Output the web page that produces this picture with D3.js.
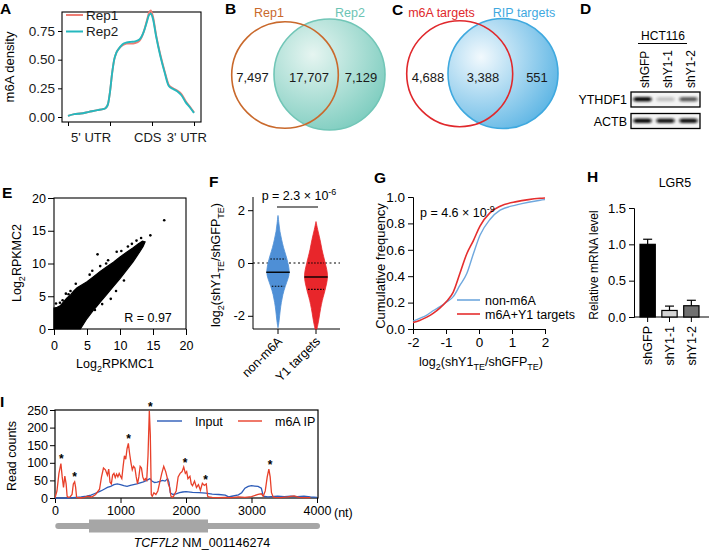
<!DOCTYPE html>
<html><head><meta charset="utf-8">
<script src="https://cdn.jsdelivr.net/npm/d3@7"></script>
<style>body{margin:0;background:#fff}svg{display:block}</style>
</head><body><svg id="c" width="709" height="554"></svg>
<script>
// ---------------- DATA ----------------
// A: metagene m6A density
const metaPos     = [0, 0.15, 0.3, 0.5, 0.7, 0.85, 0.9, 0.95, 1.0, 1.05, 1.1, 1.15, 1.2, 1.3, 1.4, 1.5, 1.6, 1.7, 1.8, 1.87, 1.93, 1.97, 2.02, 2.1, 2.2, 2.3, 2.4, 2.5, 2.6, 2.7, 2.8, 2.9, 3.0];
const rep1Density = [0.01, 0.025, 0.03, 0.045, 0.06, 0.07, 0.08, 0.11, 0.22, 0.38, 0.5, 0.56, 0.59, 0.625, 0.64, 0.64, 0.645, 0.665, 0.74, 0.83, 0.91, 0.93, 0.88, 0.71, 0.54, 0.4, 0.28, 0.25, 0.23, 0.2, 0.14, 0.09, 0.04];
const rep2Density = [0.01, 0.025, 0.03, 0.045, 0.06, 0.07, 0.08, 0.11, 0.22, 0.38, 0.5, 0.56, 0.59, 0.635, 0.65, 0.655, 0.66, 0.675, 0.74, 0.82, 0.89, 0.9, 0.86, 0.7, 0.53, 0.39, 0.27, 0.245, 0.225, 0.19, 0.13, 0.085, 0.035];
const metaTicks = [0, 1, 2, 3];
const metaLabels = ["5' UTR", "CDS", "3' UTR"];
const metaLabelPos = [0.55, 1.9, 2.83];
const densityTicks = [0, 0.25, 0.5, 0.75];
const repNames = ["Rep1", "Rep2"];

// B & C: Venn counts
const vennBNames = ["Rep1", "Rep2"];
const vennBCounts = [7497, 17707, 7129];
const vennCNames = ["m6A targets", "RIP targets"];
const vennCCounts = [4688, 3388, 551];

// D: western blot
const blotCell = "HCT116";
const blotLanes = ["shGFP", "shY1-1", "shY1-2"];
const blotProteins = ["YTHDF1", "ACTB"];
const ythdf1Intensity = [1.0, 0.2, 0.65];
const actbIntensity = [1.0, 0.95, 0.97];

// E: scatter (dense cloud envelope + individual points)
const cloudUpperX = [0, 0.5, 1, 1.5, 2, 2.5, 3, 3.5, 4, 5, 6, 7, 8, 9, 10, 11, 12, 12.8, 13.4, 13.8];
const cloudUpperY = [3.2, 3.3, 3.6, 4.2, 4.8, 5.2, 5.8, 6.3, 6.6, 7.2, 8.0, 8.8, 9.5, 10.2, 11.0, 11.7, 12.4, 13.0, 13.4, 13.3];
const cloudLowerX = [13.8, 13.5, 13, 12, 11, 10, 9, 8, 7, 6, 5, 4.5, 4, 0];
const cloudLowerY = [13.3, 12.6, 11.8, 10.3, 9.0, 7.7, 6.5, 5.3, 4.1, 2.9, 1.6, 0.8, 0, 0];
const scatterX = [16.7, 14.6, 6.6, 7.0, 2.5, 0.9, 4.9, 9.5, 11.2, 5.4, 3.3, 1.8, 12.5, 8.2, 6.2, 7.3, 9.4, 10.6, 3.8, 0.3, 13.2, 12.9, 3.4, 5.8, 10.2, 1.3, 2.2, 7.9, 11.8, 8.6, 4.4];
const scatterY = [16.6, 14.3, 11.4, 9.6, 5.8, 4.0, 2.4, 11.8, 12.6, 8.3, 6.9, 5.4, 13.5, 10.5, 2.9, 3.8, 5.8, 7.4, 0.6, 3.9, 13.9, 12.9, 0.6, 8.9, 11.9, 4.4, 5.3, 10.0, 13.0, 4.6, 1.2];
const scatterTicks = [0, 5, 10, 15, 20];
const corrLabel = "R = 0.97";

// F: violins
const violinGroups = ["non-m6A", "Y1 targets"];
const violinBlueY = [1.8, 1.5, 1.2, 0.9, 0.6, 0.25, 0, -0.35, -0.6, -0.9, -1.2, -1.5, -1.8, -2.2, -2.45];
const violinBlueW = [0, 0.08, 0.15, 0.3, 0.45, 0.7, 0.85, 1.0, 0.85, 0.6, 0.4, 0.28, 0.18, 0.1, 0];
const violinRedY  = [1.57, 1.3, 0.87, 0.5, 0.24, 0, -0.25, -0.5, -0.75, -1.05, -1.3, -1.55, -1.9, -2.2, -2.5];
const violinRedW  = [0, 0.12, 0.36, 0.5, 0.65, 0.78, 0.92, 1.0, 0.92, 0.76, 0.6, 0.46, 0.32, 0.22, 0.08];
const violinMedian = [-0.35, -0.53];
const violinQ1 = [-0.88, -1.0];
const violinQ3 = [0.15, 0.0];
const violinTicks = [-2, 0, 2];

// G: cumulative curves
const cdfX       = [-2, -1.8, -1.58, -1.38, -1.18, -0.98, -0.78, -0.58, -0.37, -0.17, 0.03, 0.33, 0.64, 1.14, 1.5, 1.85, 2.0];
const cdfNonM6A  = [0.06, 0.08, 0.105, 0.14, 0.17, 0.205, 0.245, 0.33, 0.42, 0.57, 0.71, 0.83, 0.9, 0.94, 0.96, 0.975, 0.98];
const cdfTargets = [0.05, 0.065, 0.09, 0.12, 0.16, 0.21, 0.28, 0.42, 0.57, 0.67, 0.78, 0.88, 0.93, 0.965, 0.98, 0.99, 0.993];
const cdfNames = ["non-m6A", "m6A+Y1 targets"];
const cdfXTicks = [-2, -1, 0, 1, 2];
const cdfYTicks = [0, 0.2, 0.4, 0.6, 0.8, 1.0];

// H: qPCR bars
const qpcrSamples = ["shGFP", "shY1-1", "shY1-2"];
const qpcrMeans = [1.0, 0.09, 0.155];
const qpcrErrors = [0.07, 0.06, 0.075];
const qpcrTicks = [0, 0.5, 1.0, 1.5];

// I: read coverage
const ipNt = [0, 30, 60, 90, 110, 130, 150, 170, 185, 200, 230, 260, 280, 300, 315, 330, 380, 450, 500, 560, 620, 680, 710, 740, 770, 800, 820, 840, 860, 880, 900, 920, 940, 960, 980, 1000, 1020, 1040, 1060, 1080, 1100, 1120, 1140, 1160, 1180, 1200, 1220, 1240, 1260, 1280, 1300, 1320, 1340, 1360, 1380, 1400, 1420, 1440, 1455, 1470, 1485, 1510, 1540, 1570, 1600, 1630, 1660, 1690, 1710, 1730, 1750, 1770, 1790, 1810, 1850, 1880, 1910, 1940, 1965, 1990, 2010, 2030, 2060, 2080, 2100, 2130, 2160, 2190, 2220, 2250, 2280, 2310, 2330, 2345, 2400, 2500, 2600, 2700, 2800, 2900, 3000, 3100, 3150, 3180, 3210, 3240, 3265, 3285, 3305, 3330, 3360, 3450, 3550, 3650, 3700, 3730, 3800, 3900, 4000];
const ipCounts = [0, 20, 70, 98, 60, 30, 62, 40, 5, 2, 3, 10, 40, 46, 30, 2, 0, 2, 5, 3, 10, 25, 60, 85, 80, 65, 82, 45, 40, 65, 70, 58, 68, 60, 70, 62, 55, 90, 120, 110, 140, 155, 125, 100, 80, 90, 85, 60, 40, 60, 90, 85, 60, 50, 55, 50, 120, 248, 180, 10, 5, 15, 10, 20, 45, 70, 90, 75, 60, 40, 30, 5, 2, 5, 20, 60, 70, 75, 88, 70, 75, 55, 62, 40, 35, 48, 30, 38, 22, 42, 36, 40, 5, 3, 2, 1, 2, 1, 3, 2, 4, 10, 12, 5, 20, 60, 82, 60, 15, 3, 2, 1, 3, 6, 3, 2, 1, 1];
const inputNt = [0, 200, 330, 400, 480, 550, 600, 650, 700, 750, 800, 850, 900, 950, 1000, 1050, 1100, 1150, 1200, 1250, 1300, 1350, 1400, 1450, 1480, 1520, 1560, 1600, 1640, 1680, 1720, 1740, 1760, 1800, 1850, 1900, 1950, 2000, 2100, 2200, 2300, 2400, 2500, 2600, 2650, 2700, 2800, 2850, 2900, 2950, 3000, 3050, 3100, 3150, 3180, 3250, 3300, 3400, 3500, 3600, 3700, 3800, 3900, 4000];
const inputCounts = [0, 0, 2, 3, 5, 8, 12, 16, 20, 25, 30, 33, 38, 40, 38, 35, 33, 36, 38, 40, 43, 46, 50, 55, 48, 44, 45, 47, 50, 48, 55, 45, 15, 10, 12, 15, 17, 18, 16, 15, 14, 11, 10, 8, 3, 5, 9, 15, 28, 33, 35, 34, 33, 28, 5, 3, 4, 5, 4, 5, 4, 5, 3, 2];
const peakStarNt = [95, 300, 1125, 1455, 1985, 2300, 3285];
const peakStarCount = [103, 50, 158, 250, 92, 44, 86];
const coverageNames = ["Input", "m6A IP"];
const coverageYTicks = [0, 50, 100, 150, 200, 250];
const coverageXTicks = [0, 1000, 2000, 3000, 4000];
const geneSpan = [50, 4000];
const geneCDS = [519, 2336];
const geneName = "TCF7L2";
const geneAcc = "NM_001146274";

// ---------------- DRAWING ----------------
const FONT = '"Liberation Sans", Arial, Helvetica, sans-serif';
const svg = d3.select('#c').attr('font-family', FONT);
svg.append('rect').attr('width', 709).attr('height', 554).attr('fill', '#fff');
const defs = svg.append('defs');
const plain = d => String(d);

function styleAxis(g, fs) {
  g.selectAll('path.domain').attr('stroke', '#000').attr('stroke-width', 1);
  g.selectAll('.tick line').attr('stroke', '#000').attr('stroke-width', 1);
  g.selectAll('.tick text').attr('font-size', fs).attr('font-family', FONT).attr('fill', '#000');
}
function rich(sel, parts, fs) {
  let shift = 0;
  parts.forEach(([t, k]) => {
    const ts = sel.append('tspan').text(t);
    let target = 0, size = fs;
    if (k === 'sub') { target = fs * 0.32; size = fs * 0.72; }
    if (k === 'sup') { target = -fs * 0.42; size = fs * 0.72; }
    ts.attr('dy', target - shift).attr('font-size', size);
    shift = target;
  });
  return sel;
}
function letter(t, x, y) {
  svg.append('text').attr('x', x).attr('y', y).attr('font-size', 15.5).attr('font-weight', 'bold').text(t);
}
function vtitle(x, y, fs) {
  return svg.append('text').attr('transform', `translate(${x},${y}) rotate(-90)`).attr('text-anchor', 'middle').attr('font-size', fs);
}

// ===== Panel A =====
letter('A', 0, 14);
const xA = d3.scaleLinear([0, 3], [68, 194]);
const yA = d3.scaleLinear([0, 0.75], [117, 31]);
svg.append('rect').attr('x', 62).attr('y', 12).attr('width', 139).attr('height', 110).attr('fill', 'none').attr('stroke', '#000').attr('stroke-width', 1.1);
const gAy = svg.append('g').attr('transform', 'translate(62,0)').call(d3.axisLeft(yA).tickValues(densityTicks).tickSize(4).tickPadding(3).tickFormat(d3.format('.2f')));
gAy.select('.domain').remove(); styleAxis(gAy, 13.5);
gAy.selectAll('.tick text').attr('fill', '#1a1a1a');
const gAx = svg.append('g').attr('transform', 'translate(0,122)').call(d3.axisBottom(xA).tickValues(metaTicks).tickSize(4).tickFormat(''));
gAx.select('.domain').remove(); styleAxis(gAx, 13);
metaLabels.forEach((l, i) => svg.append('text').attr('x', xA(metaLabelPos[i])).attr('y', 141.5).attr('text-anchor', 'middle').attr('font-size', 13).attr('fill', '#1a1a1a').text(l));
vtitle(14, 67, 13).text('m6A density');
const lineA = d3.line().x((d, i) => xA(metaPos[i])).y(d => yA(d)).curve(d3.curveMonotoneX);
const repColors = ['#EE7D74', '#25B8BE'];
svg.append('path').attr('d', lineA(rep1Density)).attr('fill', 'none').attr('stroke', repColors[0]).attr('stroke-width', 1.9);
svg.append('path').attr('d', lineA(rep2Density)).attr('fill', 'none').attr('stroke', repColors[1]).attr('stroke-width', 1.9);
repNames.forEach((n, i) => {
  const y = 15 + i * 16.5;
  svg.append('line').attr('x1', 66).attr('x2', 83).attr('y1', y).attr('y2', y).attr('stroke', repColors[i]).attr('stroke-width', 2);
  svg.append('text').attr('x', 86).attr('y', y + 4.7).attr('font-size', 13.5).attr('fill', '#1a1a1a').text(n);
});

// ===== Panel B =====
letter('B', 225, 14);
const fmt = d3.format(',');
const gB = defs.append('radialGradient').attr('id', 'gB').attr('cx', '35%').attr('cy', '32%').attr('r', '78%');
gB.append('stop').attr('offset', '0%').attr('stop-color', '#e6f5f1');
gB.append('stop').attr('offset', '100%').attr('stop-color', '#79cbbd');
svg.append('circle').attr('cx', 329.5).attr('cy', 74.5).attr('r', 55.5).attr('fill', 'url(#gB)').attr('stroke', '#71c6b7').attr('stroke-width', 1.6);
svg.append('circle').attr('cx', 285).attr('cy', 75).attr('r', 53.3).attr('fill', 'none').attr('stroke', '#C9692C').attr('stroke-width', 1.6);
svg.append('text').attr('x', 269).attr('y', 17).attr('text-anchor', 'middle').attr('font-size', 12.5).attr('fill', '#C9692C').text(vennBNames[0]);
svg.append('text').attr('x', 350).attr('y', 17).attr('text-anchor', 'middle').attr('font-size', 12.5).attr('fill', '#6cc4b4').text(vennBNames[1]);
[252.5, 309, 361].forEach((x, i) => svg.append('text').attr('x', x).attr('y', 82).attr('text-anchor', 'middle').attr('font-size', 13).attr('fill', '#1a1a1a').text(fmt(vennBCounts[i])));

// ===== Panel C =====
letter('C', 392, 15);
const gC = defs.append('radialGradient').attr('id', 'gC').attr('cx', '30%').attr('cy', '35%').attr('r', '80%');
gC.append('stop').attr('offset', '0%').attr('stop-color', '#f2f9fd');
gC.append('stop').attr('offset', '100%').attr('stop-color', '#56b2e3');
svg.append('circle').attr('cx', 503).attr('cy', 73.5).attr('r', 55).attr('fill', 'url(#gC)').attr('stroke', '#3FA9DF').attr('stroke-width', 1.6);
svg.append('circle').attr('cx', 459.7).attr('cy', 73.7).attr('r', 53).attr('fill', 'none').attr('stroke', '#E0282C').attr('stroke-width', 1.6);
svg.append('text').attr('x', 441.5).attr('y', 17).attr('text-anchor', 'middle').attr('font-size', 12.5).attr('fill', '#E0282C').text(vennCNames[0]);
svg.append('text').attr('x', 524).attr('y', 17).attr('text-anchor', 'middle').attr('font-size', 12.5).attr('fill', '#3FA9DF').text(vennCNames[1]);
[428, 483, 537].forEach((x, i) => svg.append('text').attr('x', x).attr('y', 82).attr('text-anchor', 'middle').attr('font-size', 13).attr('fill', '#1a1a1a').text(fmt(vennCCounts[i])));

// ===== Panel D =====
letter('D', 580, 14);
svg.append('text').attr('x', 663).attr('y', 40).attr('text-anchor', 'middle').attr('font-size', 12).text(blotCell);
svg.append('line').attr('x1', 638).attr('x2', 687).attr('y1', 43.5).attr('y2', 43.5).attr('stroke', '#000').attr('stroke-width', 1.2);
const xD = d3.scaleBand(blotLanes, [631, 700]).padding(0);
blotLanes.forEach(l => {
  const cx = xD(l) + xD.bandwidth() / 2 + 2;
  svg.append('text').attr('transform', `translate(${cx + 4},88) rotate(-90)`).attr('font-size', 12).text(l);
});
const blur = defs.append('filter').attr('id', 'blur').attr('x', '-30%').attr('y', '-100%').attr('width', '160%').attr('height', '300%');
blur.append('feGaussianBlur').attr('stdDeviation', '1.4 1');
const blotRows = [[92, ythdf1Intensity], [113.5, actbIntensity]];
blotRows.forEach(([y0, ints], r) => {
  svg.append('rect').attr('x', 631).attr('y', y0).attr('width', 69).attr('height', 15).attr('fill', '#f4f4f4').attr('stroke', '#000').attr('stroke-width', 1.3);
  ints.forEach((v, i) => {
    const cx = xD(blotLanes[i]) + xD.bandwidth() / 2;
    svg.append('rect').attr('x', cx - 9).attr('y', y0 + 5).attr('width', 18).attr('height', 4.5).attr('rx', 2)
      .attr('fill', '#111').attr('opacity', v).attr('filter', 'url(#blur)');
  });
  svg.append('text').attr('x', 627).attr('y', y0 + 12).attr('text-anchor', 'end').attr('font-size', 12.5).text(blotProteins[r]);
});

// ===== Panel E =====
letter('E', 2, 198);
const xE = d3.scaleLinear([0, 20], [54, 186]);
const yE = d3.scaleLinear([0, 20], [329, 198]);
svg.append('rect').attr('x', 54).attr('y', 198).attr('width', 132).attr('height', 131).attr('fill', 'none').attr('stroke', '#000').attr('stroke-width', 1.1);
const gEy = svg.append('g').attr('transform', 'translate(54,0)').call(d3.axisLeft(yE).tickValues(scatterTicks).tickSize(6).tickPadding(2).tickFormat(plain));
gEy.select('.domain').remove(); styleAxis(gEy, 12.5);
const gEx = svg.append('g').attr('transform', 'translate(0,329)').call(d3.axisBottom(xE).tickValues(scatterTicks).tickSize(6).tickPadding(6).tickFormat(plain));
gEx.select('.domain').remove(); styleAxis(gEx, 12.5);
const cloudPts = cloudUpperX.map((x, i) => [xE(x), yE(cloudUpperY[i])]).concat(cloudLowerX.map((x, i) => [xE(x), yE(cloudLowerY[i])]));
svg.append('path').attr('d', d3.line().curve(d3.curveLinearClosed)(cloudPts)).attr('fill', '#000').attr('stroke', '#000').attr('stroke-width', 1.2);
scatterX.forEach((x, i) => svg.append('circle').attr('cx', xE(x)).attr('cy', yE(scatterY[i])).attr('r', 1.3).attr('fill', '#000'));
svg.append('text').attr('x', 148).attr('y', 322).attr('text-anchor', 'middle').attr('font-size', 12.5).text(corrLabel);
rich(vtitle(21, 263, 12.5), [['Log', ''], ['2', 'sub'], ['RPKMC2', '']], 12.5);
rich(svg.append('text').attr('x', 115).attr('y', 368).attr('text-anchor', 'middle').attr('font-size', 12.5), [['Log', ''], ['2', 'sub'], ['RPKMC1', '']], 12.5);

// ===== Panel F =====
letter('F', 209, 187);
const yF = d3.scaleLinear([-2.5, 2.5], [329, 197]);
const xF = d3.scalePoint(violinGroups, [278, 316]);
const gFy = svg.append('g').attr('transform', 'translate(253,0)').call(d3.axisLeft(yF).tickValues(violinTicks).tickSize(5).tickPadding(3).tickFormat(plain));
styleAxis(gFy, 13);
gFy.select('.domain').attr('d', 'M0,197V329');
svg.append('line').attr('x1', 253).attr('x2', 340).attr('y1', 329).attr('y2', 329).attr('stroke', '#000');
violinGroups.forEach(g => svg.append('line').attr('x1', xF(g)).attr('x2', xF(g)).attr('y1', 329).attr('y2', 334).attr('stroke', '#000'));
svg.append('line').attr('x1', 253).attr('x2', 340).attr('y1', yF(0)).attr('y2', yF(0)).attr('stroke', '#000').attr('stroke-dasharray', '2,2.5');
const vData = [[violinBlueY, violinBlueW, '#4E8FD6'], [violinRedY, violinRedW, '#E8262B']];
const vHalf = 11.8;
vData.forEach(([ys, ws, col], gi) => {
  const cx = xF(violinGroups[gi]);
  const area = d3.area().y((d, i) => yF(ys[i])).x0((d, i) => cx - vHalf * ws[i]).x1((d, i) => cx + vHalf * ws[i]).curve(d3.curveBasis);
  svg.append('path').attr('d', area(ys)).attr('fill', col).attr('stroke', col).attr('stroke-width', 0.8);
  const wAt = d3.scaleLinear(ys, ws);
  const med = violinMedian[gi];
  svg.append('line').attr('x1', cx - vHalf * wAt(med)).attr('x2', cx + vHalf * wAt(med)).attr('y1', yF(med)).attr('y2', yF(med)).attr('stroke', '#000').attr('stroke-width', 1.4);
  [violinQ1[gi], violinQ3[gi]].forEach(q => svg.append('line').attr('x1', cx - vHalf * wAt(q) * 0.85).attr('x2', cx + vHalf * wAt(q) * 0.85).attr('y1', yF(q)).attr('y2', yF(q)).attr('stroke', '#000').attr('stroke-width', 1.1).attr('stroke-dasharray', '1.5,1.5'));
  svg.append('text').attr('transform', `translate(${cx + 5},342) rotate(-45)`).attr('text-anchor', 'end').attr('font-size', 12.5).text(violinGroups[gi]);
});
svg.append('line').attr('x1', 277).attr('x2', 318).attr('y1', 207).attr('y2', 207).attr('stroke', '#000').attr('stroke-width', 1.2);
rich(svg.append('text').attr('x', 299).attr('y', 200).attr('text-anchor', 'middle').attr('font-size', 12.5), [['p = 2.3 × 10', ''], ['-6', 'sup']], 12.5);
rich(vtitle(220, 265, 12.5), [['log', ''], ['2', 'sub'], ['(shY1', ''], ['TE', 'sub'], ['/shGFP', ''], ['TE', 'sub'], [')', '']], 12.5);

// ===== Panel G =====
letter('G', 374, 183);
const xG = d3.scaleLinear([-2, 2], [413, 545]);
const yG = d3.scaleLinear([0, 1], [329, 197]);
const gGy = svg.append('g').attr('transform', 'translate(413,0)').call(d3.axisLeft(yG).tickValues(cdfYTicks).tickSize(5).tickPadding(3).tickFormat(d3.format('.1f')));
styleAxis(gGy, 13.5);
const gGx = svg.append('g').attr('transform', 'translate(0,329)').call(d3.axisBottom(xG).tickValues(cdfXTicks).tickSize(5).tickPadding(3).tickFormat(plain));
styleAxis(gGx, 13.5);
const lineG = d3.line().x((d, i) => xG(cdfX[i])).y(d => yG(d)).curve(d3.curveMonotoneX);
const cdfColors = ['#6FA8DE', '#E52E2E'];
svg.append('path').attr('d', lineG(cdfNonM6A)).attr('fill', 'none').attr('stroke', cdfColors[0]).attr('stroke-width', 1.4);
svg.append('path').attr('d', lineG(cdfTargets)).attr('fill', 'none').attr('stroke', cdfColors[1]).attr('stroke-width', 1.6);
cdfNames.forEach((n, i) => {
  const y = 300 + i * 14;
  svg.append('line').attr('x1', 457).attr('x2', 480).attr('y1', y).attr('y2', y).attr('stroke', cdfColors[i]).attr('stroke-width', 1.6);
  svg.append('text').attr('x', 485).attr('y', y + 4.5).attr('font-size', 12.5).text(n);
});
rich(svg.append('text').attr('x', 420).attr('y', 217).attr('font-size', 12.5), [['p = 4.6 × 10', ''], ['-9', 'sup']], 12.5);
rich(vtitle(385, 266, 13), [['Cumulative frequency', '']], 13);
rich(svg.append('text').attr('x', 481).attr('y', 366).attr('text-anchor', 'middle').attr('font-size', 12.5), [['log', ''], ['2', 'sub'], ['(shY1', ''], ['TE', 'sub'], ['/shGFP', ''], ['TE', 'sub'], [')', '']], 12.5);

// ===== Panel H =====
letter('H', 587, 182);
svg.append('text').attr('x', 675).attr('y', 187).attr('text-anchor', 'middle').attr('font-size', 12.5).text('LGR5');
const yH = d3.scaleLinear([0, 1.5], [317, 208]);
const xH = d3.scaleBand(qpcrSamples, [640, 699]).paddingInner(0.3).paddingOuter(0);
const gHy = svg.append('g').attr('transform', 'translate(634,0)').call(d3.axisLeft(yH).tickValues(qpcrTicks).tickSize(5).tickPadding(3).tickFormat(d3.format('.1f')));
styleAxis(gHy, 13);
svg.append('line').attr('x1', 634).attr('x2', 709).attr('y1', 317).attr('y2', 317).attr('stroke', '#000');
const barFills = ['#000', '#d4d4d4', '#707070'];
qpcrSamples.forEach((s, i) => {
  const x = xH(s), w = xH.bandwidth(), cx = x + w / 2;
  const top = yH(qpcrMeans[i] + qpcrErrors[i]);
  svg.append('line').attr('x1', cx).attr('x2', cx).attr('y1', yH(qpcrMeans[i])).attr('y2', top).attr('stroke', '#000').attr('stroke-width', 1.2);
  svg.append('line').attr('x1', cx - 4.5).attr('x2', cx + 4.5).attr('y1', top).attr('y2', top).attr('stroke', '#000').attr('stroke-width', 1.2);
  svg.append('rect').attr('x', x).attr('y', yH(qpcrMeans[i])).attr('width', w).attr('height', 317 - yH(qpcrMeans[i])).attr('fill', barFills[i]).attr('stroke', '#000').attr('stroke-width', 1.2);
  svg.append('line').attr('x1', cx).attr('x2', cx).attr('y1', 317).attr('y2', 322).attr('stroke', '#000');
  svg.append('text').attr('transform', `translate(${cx + 4.5},326) rotate(-90)`).attr('text-anchor', 'end').attr('font-size', 12.5).text(s);
});
vtitle(598, 265, 12).text('Relative mRNA level');

// ===== Panel I =====
letter('I', 0, 407);
const xI = d3.scaleLinear([0, 4000], [55, 317]);
const yI = d3.scaleLinear([0, 250], [498, 410]);
svg.append('rect').attr('x', 55).attr('y', 410).attr('width', 263).attr('height', 88).attr('fill', 'none').attr('stroke', '#000').attr('stroke-width', 1.2);
const gIy = svg.append('g').attr('transform', 'translate(55,0)').call(d3.axisLeft(yI).tickValues(coverageYTicks).tickSize(5).tickPadding(2).tickFormat(plain));
gIy.select('.domain').remove(); styleAxis(gIy, 12.5);
const gIx = svg.append('g').attr('transform', 'translate(0,498)').call(d3.axisBottom(xI).tickValues(coverageXTicks).tickSize(5).tickPadding(3).tickFormat(plain));
gIx.select('.domain').remove(); styleAxis(gIx, 12.5);
svg.append('text').attr('x', 334).attr('y', 516.5).attr('font-size', 12.5).text('(nt)');
const clipI = defs.append('clipPath').attr('id', 'clipI');
clipI.append('rect').attr('x', 55).attr('y', 405).attr('width', 263).attr('height', 94);
const covColors = ['#2C5BB8', '#E8402A'];
const gI = svg.append('g').attr('clip-path', 'url(#clipI)');
gI.append('path').attr('d', d3.line().x((d, i) => xI(inputNt[i])).y(d => yI(d))(inputCounts)).attr('fill', 'none').attr('stroke', covColors[0]).attr('stroke-width', 1.3);
gI.append('path').attr('d', d3.line().x((d, i) => xI(ipNt[i])).y(d => yI(d))(ipCounts)).attr('fill', 'none').attr('stroke', covColors[1]).attr('stroke-width', 1.3);
peakStarNt.forEach((n, i) => svg.append('text').attr('x', xI(n)).attr('y', yI(peakStarCount[i]) + 1).attr('text-anchor', 'middle').attr('font-size', 12).attr('font-weight', 'bold').text('*'));
const legI = [[157, 182, 195], [238, 262, 275]];
coverageNames.forEach((n, i) => {
  svg.append('line').attr('x1', legI[i][0]).attr('x2', legI[i][1]).attr('y1', 421).attr('y2', 421).attr('stroke', covColors[i]).attr('stroke-width', 1.4);
  svg.append('text').attr('x', legI[i][2]).attr('y', 425.5).attr('font-size', 12.5).text(n);
});
vtitle(16, 456, 12.5).text('Read counts');
// gene model
svg.append('line').attr('x1', xI(geneSpan[0])).attr('x2', xI(geneSpan[1])).attr('y1', 526).attr('y2', 526).attr('stroke', '#a6a6a6').attr('stroke-width', 6).attr('stroke-linecap', 'round');
svg.append('rect').attr('x', xI(geneCDS[0])).attr('y', 519.5).attr('width', xI(geneCDS[1]) - xI(geneCDS[0])).attr('height', 13).attr('fill', '#a6a6a6');
const gl = svg.append('text').attr('x', 202).attr('y', 547).attr('text-anchor', 'middle').attr('font-size', 12.5);
gl.append('tspan').attr('font-style', 'italic').text(geneName);
gl.append('tspan').text('  ' + geneAcc);
</script></body></html>
